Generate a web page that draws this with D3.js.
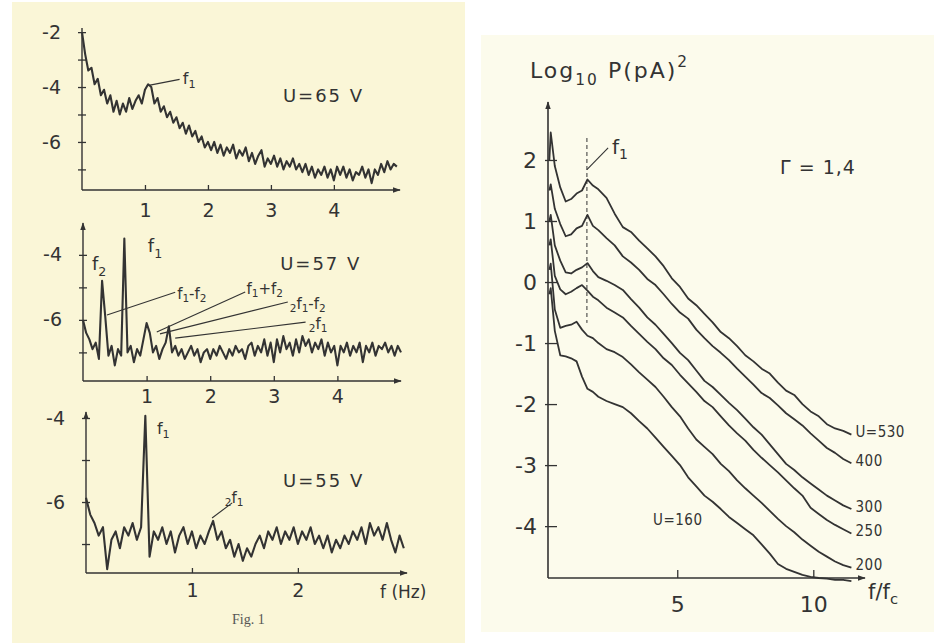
<!DOCTYPE html>
<html><head><meta charset="utf-8">
<script src="https://cdn.jsdelivr.net/npm/d3@7"></script>
<style>body{margin:0;background:#fff;} svg{display:block;}</style>
</head><body><svg id="c" width="934" height="643"></svg>
<script>
// ---------- DATA ----------
// Left figure: log10 power spectra, frequency in Hz
const stepHz = 0.05;            // sampling of the U=65 V and U=57 V traces
const u65 = [-2.0,-2.8,-3.4,-3.3,-3.9,-3.7,-4.3,-4.1,-4.6,-4.3,
 -4.9,-4.5,-5.0,-4.6,-4.9,-4.4,-4.8,-4.5,-4.3,-4.6,
 -4.1,-3.9,-4.0,-4.6,-4.4,-4.9,-4.7,-5.1,-4.9,-5.3,
 -5.1,-5.5,-5.3,-5.7,-5.4,-5.8,-5.6,-6.0,-5.8,-6.2,
 -6.0,-6.3,-6.0,-6.4,-6.1,-6.5,-6.2,-6.4,-6.1,-6.6,
 -6.3,-6.5,-6.2,-6.7,-6.4,-6.8,-6.5,-6.3,-6.9,-6.6,
 -6.8,-6.5,-6.9,-6.6,-7.0,-6.7,-6.9,-6.6,-7.0,-6.8,
 -7.1,-6.8,-7.2,-6.9,-7.3,-7.0,-7.2,-6.9,-7.3,-7.0,
 -7.4,-6.9,-7.2,-6.9,-7.3,-7.0,-7.4,-7.1,-7.2,-6.9,
 -7.3,-7.0,-7.5,-7.0,-7.2,-6.8,-7.1,-6.7,-7.0,-6.8,
 -6.9];
const u57 = [-6.0,-6.4,-6.6,-6.9,-6.7,-7.2,-4.8,-5.9,-7.1,-6.8,
 -7.4,-6.9,-7.1,-3.5,-7.0,-6.8,-7.3,-6.9,-7.1,-6.6,
 -6.1,-6.4,-7.0,-6.8,-7.2,-6.9,-6.7,-6.2,-7.0,-6.8,
 -7.1,-6.9,-7.2,-7.0,-6.8,-7.1,-6.9,-7.3,-7.0,-6.9,
 -7.2,-6.9,-7.1,-6.8,-7.0,-7.2,-6.9,-7.1,-6.8,-7.0,
 -6.9,-7.2,-6.8,-6.7,-7.1,-6.8,-7.0,-6.6,-7.1,-6.7,
 -7.3,-6.6,-7.0,-6.5,-6.9,-6.7,-7.1,-6.6,-7.0,-6.5,
 -6.8,-6.6,-7.0,-6.7,-6.9,-6.6,-7.1,-6.7,-7.0,-6.8,
 -7.4,-6.8,-7.0,-6.7,-7.1,-6.8,-7.0,-6.7,-7.3,-6.8,
 -7.0,-6.7,-7.1,-6.8,-6.9,-6.7,-7.0,-6.8,-7.1,-6.8,
 -7.0];
const stepHz55 = 0.04;          // sampling of the U=55 V trace
const u55 = [-5.9,-6.3,-6.5,-6.8,-6.6,-7.6,-6.9,-6.7,-7.1,-6.6,
 -6.8,-6.5,-6.9,-6.6,-3.95,-7.3,-6.7,-6.9,-6.6,-7.0,
 -6.7,-7.2,-6.8,-6.6,-7.0,-6.7,-7.1,-6.8,-7.0,-6.7,
 -6.45,-6.9,-6.7,-7.1,-6.9,-7.3,-7.0,-7.4,-7.1,-7.3,
 -7.0,-6.8,-7.1,-6.7,-6.9,-6.6,-7.0,-6.7,-6.9,-6.6,
 -7.0,-6.7,-6.9,-6.6,-7.0,-6.8,-7.1,-6.8,-7.2,-6.9,
 -7.1,-6.8,-7.0,-6.7,-6.9,-6.6,-7.0,-6.5,-6.8,-6.6,
 -6.9,-6.5,-6.9,-7.2,-6.8,-7.1];
const hzTicksA = [1,2,3,4];
const hzTicksB = [1,2];
const leftYTicksTop = [-7,-6,-5,-4,-3,-2];
const leftYTicks = [-7,-6,-5,-4];
const leftYLabelsTop = [-2,-4,-6];
const leftYLabels = [-4,-6];

// Right figure: Log10 P vs f/fc
const ratio = [0.3,0.35,0.5,0.7,0.9,1.1,1.3,1.5,1.7,1.9,
 2.1,2.4,2.7,3.0,3.3,3.6,3.9,4.2,4.5,4.8,
 5.1,5.4,5.7,6.0,6.3,6.6,6.9,7.2,7.5,7.8,
 8.1,8.4,8.7,9.0,9.3,9.6,9.9,10.2,10.5,10.8,
 11.1,11.4];
const u530 = [2.0,2.45,1.9,1.55,1.32,1.36,1.45,1.5,1.68,1.58,
 1.52,1.38,1.12,0.9,0.82,0.68,0.55,0.42,0.26,0.06,
 -0.08,-0.27,-0.38,-0.52,-0.66,-0.82,-0.92,-1.05,-1.2,-1.3,
 -1.42,-1.5,-1.65,-1.78,-1.85,-2.0,-2.12,-2.2,-2.33,-2.4,
 -2.44,-2.5];
const u400 = [1.5,1.6,1.2,0.95,0.75,0.78,0.88,0.92,1.1,0.92,
 0.85,0.72,0.6,0.42,0.32,0.2,0.05,-0.05,-0.2,-0.36,
 -0.5,-0.6,-0.78,-0.92,-1.05,-1.16,-1.28,-1.42,-1.55,-1.68,
 -1.82,-1.9,-2.02,-2.15,-2.25,-2.35,-2.48,-2.6,-2.72,-2.8,
 -2.9,-2.97];
const u300 = [1.0,1.1,0.6,0.35,0.16,0.14,0.2,0.24,0.31,0.18,
 0.08,0.02,-0.05,-0.13,-0.28,-0.42,-0.58,-0.7,-0.85,-1.0,
 -1.16,-1.28,-1.45,-1.62,-1.72,-1.85,-1.98,-2.1,-2.24,-2.38,
 -2.5,-2.66,-2.82,-2.98,-3.08,-3.2,-3.3,-3.4,-3.5,-3.58,
 -3.66,-3.72];
const u250 = [0.6,0.7,0.1,-0.12,-0.2,-0.16,-0.1,-0.05,-0.14,-0.24,
 -0.3,-0.42,-0.5,-0.58,-0.72,-0.85,-0.98,-1.1,-1.25,-1.36,
 -1.52,-1.66,-1.8,-1.95,-2.05,-2.2,-2.35,-2.48,-2.6,-2.75,
 -2.88,-3.0,-3.12,-3.25,-3.38,-3.5,-3.7,-3.8,-3.9,-3.98,
 -4.05,-4.12];
const u200 = [0.2,0.3,-0.45,-0.75,-0.72,-0.7,-0.65,-0.78,-0.88,-0.92,
 -1.0,-1.1,-1.15,-1.23,-1.35,-1.48,-1.6,-1.72,-1.88,-2.05,
 -2.2,-2.4,-2.58,-2.7,-2.82,-2.98,-3.1,-3.25,-3.38,-3.5,
 -3.62,-3.75,-3.88,-4.0,-4.1,-4.22,-4.32,-4.42,-4.5,-4.58,
 -4.64,-4.68];
const u160 = [-0.2,-0.1,-0.8,-1.2,-1.22,-1.25,-1.3,-1.55,-1.75,-1.8,
 -1.88,-1.95,-2.0,-2.05,-2.15,-2.28,-2.4,-2.55,-2.7,-2.85,
 -3.0,-3.2,-3.35,-3.5,-3.6,-3.72,-3.85,-3.95,-4.05,-4.15,
 -4.3,-4.45,-4.62,-4.7,-4.75,-4.8,-4.83,-4.85,-4.86,-4.88,
 -4.88,-4.9];
const rightSeries = [u530,u400,u300,u250,u200,u160];
const rightEndLabels = ["U=530","400","300","250","200"];
const rightXTicks = [5,10];
const rightYTicks = [-4,-3,-2,-1,0,1,2];
const f1Ratio = 1.68;

// ---------- DRAWING ----------
const svg = d3.select("#c");
const ink = "#333333";
const FONT = "'DejaVu Sans', 'Liberation Sans', sans-serif";
svg.append("rect").attr("x",12).attr("y",2).attr("width",453).attr("height",641).attr("fill","#faf6d7");
svg.append("rect").attr("x",481).attr("y",35).attr("width",453).attr("height",597).attr("fill","#fcfbec");

const defs = svg.append("defs");
defs.append("marker").attr("id","arr").attr("viewBox","0 0 10 10").attr("refX",9).attr("refY",5)
  .attr("markerWidth",8).attr("markerHeight",8).attr("markerUnits","userSpaceOnUse").attr("orient","auto")
  .append("path").attr("d","M0,1.5L10,5L0,8.5Z").attr("fill",ink);

function richText(g, x, y, parts, size, opts={}){
  const t = g.append("text").attr("x",x).attr("y",y).attr("fill",ink)
    .attr("font-family",opts.family||FONT).attr("font-size",size)
    .attr("letter-spacing",opts.ls||0).attr("dominant-baseline","middle");
  let shift = 0;
  parts.forEach(([s,k])=>{
    const target = k==="sub"?0.35:(k==="sup"?-0.45:0);
    const sz = k? size*0.7 : size;
    t.append("tspan").text(s).attr("font-size",sz).attr("dy",((target-shift)*size)+"px");
    shift = target;
  });
  return t;
}

function styleAxis(ax, size){
  ax.select(".domain").remove();
  ax.selectAll("line").attr("stroke",ink).attr("stroke-width",1.3);
  ax.selectAll("text").attr("fill",ink).attr("font-size",size).attr("font-family",FONT);
}

function leftPanel(cfg){
  const x = d3.scaleLinear().domain(cfg.xd).range(cfg.xr);
  const y = d3.scaleLinear().domain(cfg.yd).range(cfg.yr);
  const g = svg.append("g");
  g.append("line").attr("x1",x(cfg.xd[0])).attr("x2",x(cfg.xd[1])).attr("y1",y(cfg.yd[0])).attr("y2",y(cfg.yd[0]))
    .attr("stroke",ink).attr("stroke-width",1.4).attr("marker-end","url(#arr)");
  g.append("line").attr("x1",x(cfg.xd[0])).attr("x2",x(cfg.xd[0])).attr("y1",y(cfg.yd[0])).attr("y2",y(cfg.yd[1]))
    .attr("stroke",ink).attr("stroke-width",1.4).attr("marker-end",cfg.yArrow?"url(#arr)":null);
  const ya = g.append("g").attr("transform",`translate(${x(cfg.xd[0])},0)`)
    .call(d3.axisLeft(y).tickValues(cfg.yTicks).tickFormat(d=>cfg.yLabels.includes(d)?"-"+Math.abs(d):"")
      .tickSizeInner(5).tickSizeOuter(0).tickPadding(16));
  styleAxis(ya,19);
  ya.selectAll(".tick line").attr("x1",-4).attr("x2",4);
  const xa = g.append("g").attr("transform",`translate(0,${y(cfg.yd[0])})`)
    .call(d3.axisBottom(x).tickValues(cfg.xTicks).tickFormat(d3.format("d"))
      .tickSizeInner(-5).tickSizeOuter(0).tickPadding(cfg.xPad));
  styleAxis(xa,19);
  const line = d3.line().x((d,i)=>x(i*cfg.step)).y(d=>y(d));
  g.append("path").datum(cfg.data).attr("d",line).attr("fill","none").attr("stroke",ink)
    .attr("stroke-width",2.1).attr("stroke-linejoin","round");
  return {x,y,g};
}

const P1 = leftPanel({xd:[0,5.05],xr:[82,400],yd:[-7.75,-1.85],yr:[190,28],yTicks:leftYTicksTop,yLabels:leftYLabelsTop,
  xTicks:hzTicksA,xPad:14,step:stepHz,data:u65,yArrow:false});
const P2 = leftPanel({xd:[0,5.0],xr:[83,401],yd:[-7.88,-3.02],yr:[381,223],yTicks:leftYTicks,yLabels:leftYLabels,
  xTicks:hzTicksA,xPad:9,step:stepHz,data:u57,yArrow:true});
const P3 = leftPanel({xd:[0,3.03],xr:[86,407],yd:[-7.69,-3.857],yr:[573,412],yTicks:leftYTicks,yLabels:leftYLabels,
  xTicks:hzTicksB,xPad:11,step:stepHz55,data:u55,yArrow:true});

function leader(P, a, b){
  P.g.append("line").attr("x1",P.x(a[0])).attr("y1",P.y(a[1])).attr("x2",P.x(b[0])).attr("y2",P.y(b[1]))
    .attr("stroke",ink).attr("stroke-width",1.1);
}
richText(P1.g, P1.x(3.19), P1.y(-4.36), [["U=65 V",0]], 18, {ls:2});
leader(P1,[1.08,-3.93],[1.55,-3.72]);
richText(P1.g, P1.x(1.6), P1.y(-3.72), [["f",0],["1","sub"]], 16);

richText(P2.g, P2.x(3.1), P2.y(-4.31), [["U=57 V",0]], 18, {ls:2});
richText(P2.g, P2.x(1.02), P2.y(-3.77), [["f",0],["1","sub"]], 18);
richText(P2.g, P2.x(0.14), P2.y(-4.32), [["f",0],["2","sub"]], 18);
leader(P2,[0.377,-5.85],[1.45,-5.15]);
richText(P2.g, P2.x(1.48), P2.y(-5.2), [["f",0],["1","sub"],["-f",0],["2","sub"]], 15);
leader(P2,[1.16,-6.37],[2.55,-5.14]);
richText(P2.g, P2.x(2.57), P2.y(-5.05), [["f",0],["1","sub"],["+f",0],["2","sub"]], 15);
leader(P2,[1.21,-6.43],[3.22,-5.45]);
richText(P2.g, P2.x(3.25), P2.y(-5.5), [["2","sub"],["f",0],["1","sub"],["-f",0],["2","sub"]], 15);
leader(P2,[1.45,-6.56],[3.5,-6.07]);
richText(P2.g, P2.x(3.55), P2.y(-6.12), [["2","sub"],["f",0],["1","sub"]], 15);

richText(P3.g, P3.x(1.86), P3.y(-5.52), [["U=55 V",0]], 18, {ls:2});
richText(P3.g, P3.x(0.67), P3.y(-4.26), [["f",0],["1","sub"]], 16);
leader(P3,[1.19,-6.38],[1.38,-6.02]);
richText(P3.g, P3.x(1.31), P3.y(-5.9), [["2","sub"],["f",0],["1","sub"]], 15);
svg.append("text").attr("x",380).attr("y",593).attr("dominant-baseline","middle").attr("fill",ink)
  .attr("font-family",FONT).attr("font-size",17).text("f (Hz)");
svg.append("text").attr("x",232).attr("y",621).attr("dominant-baseline","middle").attr("fill","#555")
  .attr("font-family","'Liberation Serif', serif").attr("font-size",14).text("Fig. 1");

// ---------- Right panel ----------
const xR = d3.scaleLinear().domain([0.25,11.9]).range([548,865]);
const yR = d3.scaleLinear().domain([-4.85,2.95]).range([578,102]);
const gR = svg.append("g");
gR.append("line").attr("x1",xR(0.25)).attr("x2",xR(11.9)).attr("y1",yR(-4.85)).attr("y2",yR(-4.85))
  .attr("stroke",ink).attr("stroke-width",1.6).attr("marker-end","url(#arr)");
gR.append("line").attr("x1",xR(0.25)).attr("x2",xR(0.25)).attr("y1",yR(-4.85)).attr("y2",yR(2.95))
  .attr("stroke",ink).attr("stroke-width",1.6).attr("marker-end","url(#arr)");
const yaR = gR.append("g").attr("transform",`translate(${xR(0.25)},0)`)
  .call(d3.axisLeft(yR).tickValues(rightYTicks).tickFormat(d=>d<0?"-"+Math.abs(d):String(d))
    .tickSizeInner(4).tickSizeOuter(0).tickPadding(7));
styleAxis(yaR,22);
yaR.selectAll(".tick line").attr("x1",-3).attr("x2",9);
const xaR = gR.append("g").attr("transform",`translate(0,${yR(-4.85)})`)
  .call(d3.axisBottom(xR).tickValues(rightXTicks).tickFormat(d3.format("d")).tickSizeInner(-8).tickSizeOuter(0).tickPadding(18));
styleAxis(xaR,22);
gR.append("line").attr("x1",xR(f1Ratio)).attr("x2",xR(f1Ratio)).attr("y1",yR(2.36)).attr("y2",yR(-0.67))
  .attr("stroke",ink).attr("stroke-width",1).attr("stroke-dasharray","4,3");
gR.append("line").attr("x1",xR(f1Ratio)).attr("y1",yR(1.84)).attr("x2",xR(2.46)).attr("y2",yR(2.2))
  .attr("stroke",ink).attr("stroke-width",1.1);
richText(gR, xR(2.6), yR(2.2), [["f",0],["1","sub"]], 20);
const lineR = d3.line().x((d,i)=>xR(ratio[i])).y(d=>yR(d));
rightSeries.forEach(s=>{
  gR.append("path").datum(s).attr("d",lineR).attr("fill","none").attr("stroke",ink)
    .attr("stroke-width",1.8).attr("stroke-linejoin","round");
});
rightEndLabels.forEach((lab,i)=>{
  const s = rightSeries[i];
  gR.append("text").attr("x",xR(11.55)).attr("y",yR(s[s.length-1])-2).attr("dominant-baseline","middle")
    .attr("fill",ink).attr("font-family","'DejaVu Sans Condensed','DejaVu Sans',sans-serif")
    .attr("font-size",15).attr("letter-spacing",0.5).text(lab);
});
gR.append("text").attr("x",xR(4.11)).attr("y",yR(-3.9)).attr("dominant-baseline","middle")
  .attr("fill",ink).attr("font-family","'DejaVu Sans Condensed','DejaVu Sans',sans-serif")
  .attr("font-size",15).attr("letter-spacing",0.5).text("U=160");
richText(gR, xR(8.78), yR(1.87), [["Γ = 1,4",0]], 19, {ls:1});
richText(gR, 530, 72, [["Log",0],["10","sub"],[" P(pA)",0],["2","sup"]], 22, {ls:2});
richText(gR, 868, 593, [["f/f",0],["c","sub"]], 21);
</script></body></html>
